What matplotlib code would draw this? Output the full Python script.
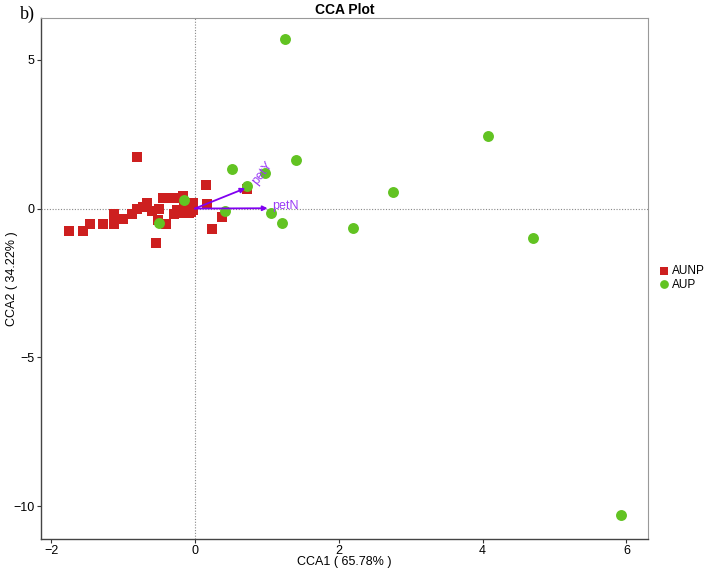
#!/usr/bin/env python3
"""CCA ordination plot: AUNP (squares) vs AUP (circles) with petY / petN arrows."""

import matplotlib
matplotlib.use("Agg")
import matplotlib.pyplot as plt

plt.rcParams["font.family"] = ["Liberation Sans", "DejaVu Sans"]

# sample scores
aunp_x = [-1.75, -1.55, -1.46, -1.28, -1.13, -1.13, -1.00, -0.875, -0.81, -0.72,
          -0.67, -0.59, -0.50, -0.52, -0.40, -0.54, -0.45, -0.38, -0.31, -0.24,
          -0.17, -0.29, -0.19, -0.08, -0.06, -0.15, -0.03, -0.80, 0.15, 0.17,
          0.24, 0.375, 0.73, -0.16, -0.25, -0.05, -0.10, -0.03]
aunp_y = [-0.76, -0.76, -0.52, -0.52, -0.52, -0.20, -0.35, -0.18, 0.00, 0.05,
          0.19, -0.08, -0.03, -0.37, -0.53, -1.15, 0.34, 0.34, 0.34, 0.34,
          0.36, -0.20, -0.14, -0.14, 0.02, 0.02, 0.19, 1.73, 0.80, 0.14,
          -0.68, -0.28, 0.65, 0.42, -0.05, -0.10, 0.05, -0.05]

aup_x = [1.25, 4.07, 1.41, 0.52, 0.98, 0.72, 2.75, 1.06, 1.21, 2.20,
         4.70, -0.15, 0.42, -0.50, 5.92]
aup_y = [5.69, 2.42, 1.64, 1.32, 1.18, 0.75, 0.54, -0.15, -0.47, -0.65,
         -1.00, 0.30, -0.08, -0.48, -10.30]

# environmental arrows
env_names = ["petY", "petN"]
env_x = [0.70, 1.01]
env_y = [0.68, 0.01]

COL_AUNP = "#CD1F1F"
COL_AUP = "#62C322"
COL_ARROW = "#8000F0"
COL_ARROW_TXT = "#9A3CF5"

fig = plt.figure(figsize=(7.05, 5.68), dpi=100)
ax = fig.add_axes([41 / 705, 1 - 539 / 568, (648 - 41) / 705, (539 - 18) / 568])

ax.axhline(0, color="#888888", linestyle=(0, (1, 1.5)), linewidth=0.8, zorder=1)
ax.axvline(0, color="#888888", linestyle=(0, (1, 1.5)), linewidth=0.8, zorder=1)

ax.scatter(aunp_x, aunp_y, marker="s", s=62, color=COL_AUNP, linewidths=0,
           label="AUNP", zorder=2)
ax.scatter(aup_x, aup_y, marker="o", s=62, color=COL_AUP, linewidths=0,
           label="AUP", zorder=3)

for name, ex, ey in zip(env_names, env_x, env_y):
    ax.annotate("", xy=(ex, ey), xytext=(0, 0),
                arrowprops=dict(arrowstyle="-|>", color=COL_ARROW, lw=1.3,
                                mutation_scale=7, shrinkA=0, shrinkB=0),
                zorder=4)
ax.text(env_x[0] + 0.06, env_y[0] + 0.05, env_names[0], color=COL_ARROW_TXT,
        fontsize=9, rotation=52, ha="left", va="bottom", zorder=5)
ax.text(env_x[1] + 0.07, env_y[1] + 0.08, env_names[1], color=COL_ARROW_TXT,
        fontsize=9, ha="left", va="center", zorder=5)

ax.set_xlim(-2.14, 6.30)
ax.set_ylim(-11.1, 6.4)
ax.set_xticks([-2, 0, 2, 4, 6])
ax.set_yticks([-10, -5, 0, 5])
ax.set_yticklabels(["\u221210", "\u22125", "0", "5"])
ax.set_xticklabels(["\u22122", "0", "2", "4", "6"])
ax.tick_params(labelsize=9, length=3, width=0.8, color="#333333", pad=1.5)

for side in ["top", "right"]:
    ax.spines[side].set_color("#999999")
    ax.spines[side].set_linewidth(0.8)
for side in ["left", "bottom"]:
    ax.spines[side].set_color("#444444")
    ax.spines[side].set_linewidth(1.0)

ax.set_xlabel("CCA1 ( 65.78% )", fontsize=9, labelpad=-1)
ax.set_ylabel("CCA2 ( 34.22% )", fontsize=9)
ax.yaxis.set_label_coords((18 - 41) / 607, 0.5)
ax.set_title("CCA Plot", fontsize=10, fontweight="bold", pad=3)

ax.legend(loc="center left", bbox_to_anchor=(658 / 705, 1 - 278 / 568),
          bbox_transform=fig.transFigure, frameon=False, fontsize=8.5,
          handletextpad=0.15, handlelength=1.0, borderaxespad=0, borderpad=0,
          labelspacing=0.1, markerscale=0.8)

fig.text(20 / 705, 1 - 14 / 568, "b)", fontsize=13,
         family=["Liberation Serif", "DejaVu Serif"], ha="left", va="center")

fig.savefig("out.png", dpi=100)
